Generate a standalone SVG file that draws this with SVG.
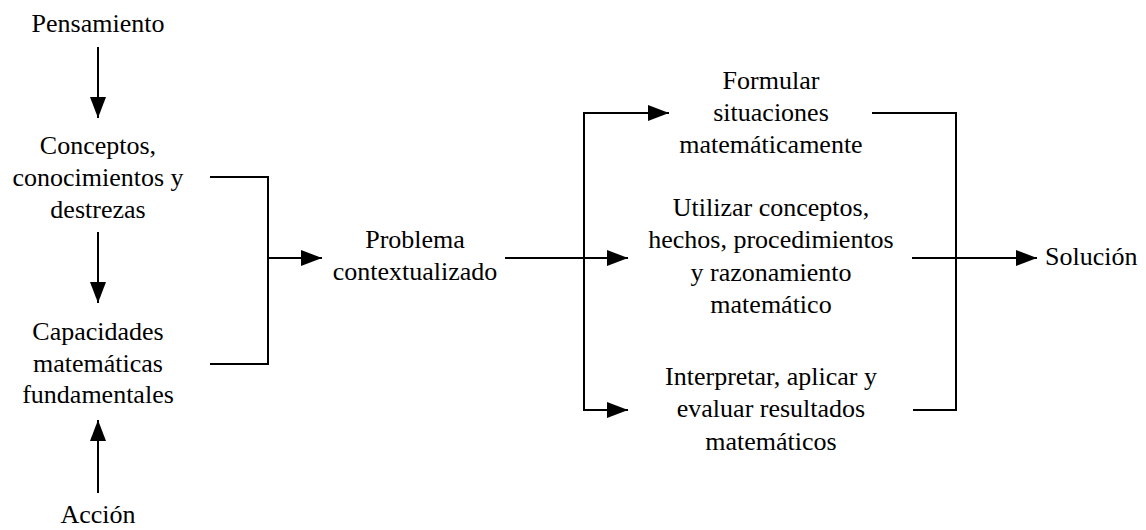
<svg xmlns="http://www.w3.org/2000/svg" width="1146" height="530" viewBox="0 0 1146 530">
<style>
text{font-family:"Liberation Serif","Times New Roman",serif;font-size:26px;fill:#000;text-anchor:middle}
.c line,.c polyline{stroke:#000;stroke-width:2;fill:none}
</style>
<defs>
<marker id="ah" markerUnits="userSpaceOnUse" markerWidth="21" markerHeight="16" refX="21" refY="8" orient="auto">
<path d="M0,0 L21,8 L0,16 z" fill="#000"/>
</marker>
</defs>
<rect width="1146" height="530" fill="#fff"/>
<g id="pensamiento"><text x="98" y="32">Pensamiento</text></g>
<g id="conceptos"><text x="98" y="154">Conceptos,</text><text x="98" y="186">conocimientos y</text><text x="98" y="218">destrezas</text></g>
<g id="capacidades"><text x="98" y="340">Capacidades</text><text x="98" y="372">matemáticas</text><text x="98" y="403">fundamentales</text></g>
<g id="accion"><text x="98" y="523">Acción</text></g>
<g id="problema"><text x="415" y="248">Problema</text><text x="415" y="280">contextualizado</text></g>
<g id="formular"><text x="771" y="89">Formular</text><text x="771" y="121">situaciones</text><text x="771" y="153">matemáticamente</text></g>
<g id="utilizar"><text x="771" y="216">Utilizar conceptos,</text><text x="771" y="248">hechos, procedimientos</text><text x="771" y="281">y razonamiento</text><text x="771" y="313">matemático</text></g>
<g id="interpretar"><text x="771" y="385">Interpretar, aplicar y</text><text x="771" y="417">evaluar resultados</text><text x="771" y="450">matemáticos</text></g>
<g id="solucion"><text x="1045" y="265" style="text-anchor:start">Solución</text></g>
<g id="connectors" class="c">
<line x1="98" y1="47" x2="98" y2="118" marker-end="url(#ah)"/>
<line x1="98" y1="232" x2="98" y2="303" marker-end="url(#ah)"/>
<line x1="98" y1="493" x2="98" y2="420" marker-end="url(#ah)"/>
<polyline points="210,177 268,177 268,364 210,364"/>
<line x1="268" y1="258" x2="322" y2="258" marker-end="url(#ah)"/>
<line x1="505" y1="258" x2="628" y2="258" marker-end="url(#ah)"/>
<line x1="584" y1="113" x2="584" y2="410"/>
<line x1="583" y1="113" x2="669" y2="113" marker-end="url(#ah)"/>
<line x1="583" y1="410" x2="628" y2="410" marker-end="url(#ah)"/>
<polyline points="872,113 956,113 956,410 913,410"/>
<line x1="912" y1="258" x2="956" y2="258"/>
<line x1="956" y1="258" x2="1037" y2="258" marker-end="url(#ah)"/>
</g>
</svg>
